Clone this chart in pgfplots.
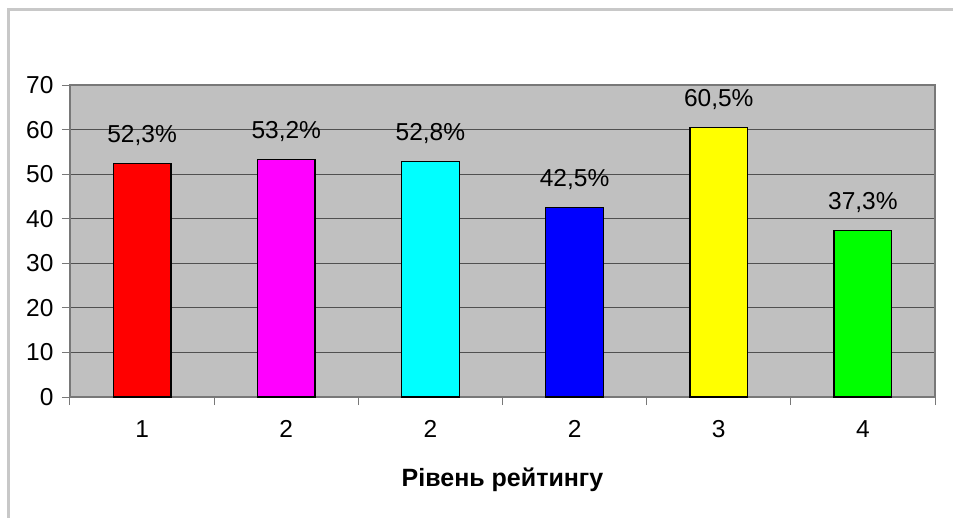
\documentclass[border=0pt]{standalone}
\usepackage{pgfplots}
\pgfplotsset{compat=1.18}
\usepackage{fontspec}
\setmainfont{Liberation Sans}

\definecolor{plotbg}{RGB}{192,192,192}
\definecolor{framegray}{RGB}{200,200,200}
\definecolor{axgray}{RGB}{120,120,120}
\definecolor{gridgray}{RGB}{80,80,80}
\definecolor{barred}{RGB}{255,0,0}
\definecolor{barmagenta}{RGB}{255,0,255}
\definecolor{barcyan}{RGB}{0,255,255}
\definecolor{barblue}{RGB}{0,0,255}
\definecolor{baryellow}{RGB}{255,255,0}
\definecolor{barlime}{RGB}{0,255,0}

\newcommand\chartfont{\fontsize{24.5}{29}\selectfont}

\begin{document}
\begin{tikzpicture}
\useasboundingbox (-70pt,-120pt) rectangle (883pt,397pt);
% outer chart frame (only left and top edges visible)
\draw[framegray, line width=3pt] (-61pt,-121pt) -- (-61pt,387pt) -- (884pt,387pt);
\begin{axis}[
	at={(0,0)}, anchor=south west,
	scale only axis,
	width=865pt, height=312pt,
	xmin=-0.5, xmax=5.5,
	ymin=0, ymax=70,
	ytick={0,10,...,70},
	xtick={0,...,5},
	xticklabels={1,2,2,2,3,4},
	minor xtick={-0.5,0.5,...,5.5},
	tick pos=left,
	tick align=outside,
	major tick length=8pt,
	minor tick length=8pt,
	major x tick style={draw=none},
	minor x tick style={axgray, line width=1pt},
	y tick style={axgray, line width=1pt},
	ymajorgrids,
	grid style={gridgray, line width=0.8pt},
	axis background/.style={fill=plotbg},
	axis line style={axgray, line width=1.2pt},
	/pgf/number format/assume math mode=true,
	tick label style={font=\chartfont, text=black},
	xticklabel style={yshift=-12pt},
	yticklabel style={xshift=-5pt},
	xlabel={Рівень рейтингу},
	xlabel style={font=\fontsize{25}{30}\selectfont\bfseries, at={(axis description cs:0.5,0)}, anchor=base, yshift=-89pt},
	bar width=0.4,
	nodes near coords={\pgfmathprintnumber[fixed,fixed zerofill,precision=1,use comma]{\pgfplotspointmeta}\%},
	nodes near coords style={anchor=base, yshift=21pt, inner sep=0pt, text=black, font=\chartfont},
]
\addplot[ybar, bar shift=0pt, fill=barred, draw=black, line width=1.2pt] coordinates {(0,52.3)};
\addplot[ybar, bar shift=0pt, fill=barmagenta, draw=black, line width=1.2pt] coordinates {(1,53.2)};
\addplot[ybar, bar shift=0pt, fill=barcyan, draw=black, line width=1.2pt] coordinates {(2,52.8)};
\addplot[ybar, bar shift=0pt, fill=barblue, draw=black, line width=1.2pt] coordinates {(3,42.5)};
\addplot[ybar, bar shift=0pt, fill=baryellow, draw=black, line width=1.2pt] coordinates {(4,60.5)};
\addplot[ybar, bar shift=0pt, fill=barlime, draw=black, line width=1.2pt] coordinates {(5,37.3)};
\end{axis}
\end{tikzpicture}
\end{document}
